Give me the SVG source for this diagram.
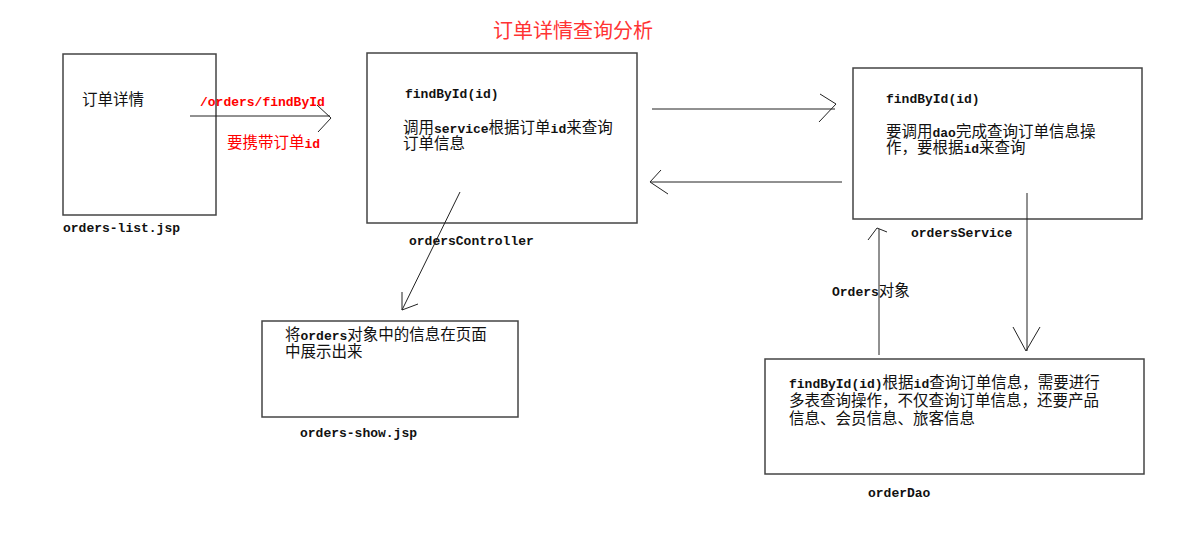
<svg xmlns="http://www.w3.org/2000/svg" width="1193" height="542" viewBox="0 0 1193 542">
<style>
.box{fill:#fff;stroke:#444;stroke-width:1.5}
.ln{fill:none;stroke:#222;stroke-width:1}
.cj{font-family:"Noto Sans CJK SC","Liberation Sans",sans-serif;font-size:15.5px;fill:#111}
.mo{font-family:"Liberation Mono","DejaVu Sans Mono",monospace;font-size:13px;font-weight:bold;fill:#111}
.red{fill:#f00}
</style>
<rect width="1193" height="542" fill="#fff"/>
<text x="493" y="38" font-family="'Noto Sans CJK SC',sans-serif" font-size="20" fill="#ff3333">订单详情查询分析</text>
<g id="orders-list">
<rect class="box" x="63" y="54" width="153" height="161"/>
<text class="cj" x="82" y="105">订单详情</text>
<text class="mo" x="63" y="232">orders-list.jsp</text>
</g>
<g id="ordersController">
<rect class="box" x="367" y="53" width="270" height="170"/>
<text class="mo" x="405" y="98">findById(id)</text>
<text class="cj" x="403" y="133">调用</text>
<text class="mo" x="434" y="133">service</text>
<text class="cj" x="488.6" y="133">根据订单</text>
<text class="mo" x="550.6" y="133">id</text>
<text class="cj" x="566.2" y="133">来查询</text>
<text class="cj" x="403" y="149">订单信息</text>
<text class="mo" x="409" y="245">ordersController</text>
</g>
<g id="ordersService">
<rect class="box" x="853" y="68" width="289" height="151"/>
<text class="mo" x="886" y="103">findById(id)</text>
<text class="cj" x="886" y="137">要调用</text>
<text class="mo" x="932.5" y="137">dao</text>
<text class="cj" x="955.9" y="137">完成查询订单信息操</text>
<text class="cj" x="886" y="153">作，要根据</text>
<text class="mo" x="963.5" y="153">id</text>
<text class="cj" x="979.1" y="153">来查询</text>
<text class="mo" x="911" y="237">ordersService</text>
</g>
<g id="orders-show">
<rect class="box" x="262" y="321" width="256" height="96"/>
<text class="cj" x="285" y="340">将</text>
<text class="mo" x="300.5" y="340">orders</text>
<text class="cj" x="347.3" y="340">对象中的信息在页面</text>
<text class="cj" x="285" y="357">中展示出来</text>
<text class="mo" x="300" y="437">orders-show.jsp</text>
</g>
<g id="orderDao">
<rect class="box" x="765" y="359" width="379" height="115"/>
<text class="mo" x="789" y="388">findById(id)</text>
<text class="cj" x="882.6" y="388">根据</text>
<text class="mo" x="913.6" y="388">id</text>
<text class="cj" x="929.2" y="388">查询订单信息，需要进行</text>
<text class="cj" x="789" y="406">多表查询操作，不仅查询订单信息，还要产品</text>
<text class="cj" x="789" y="424">信息、会员信息、旅客信息</text>
<text class="mo" x="868" y="497">orderDao</text>
</g>
<g id="connectors">
<path class="ln" d="M190 116H330M317 105L331 118L318 132"/>
<text class="mo red" x="200" y="106">/orders/findById</text>
<text class="cj red" x="227" y="148">要携带订单</text>
<text class="mo red" x="304.5" y="148">id</text>
<path class="ln" d="M652 109H835M820 94L836 104L819 122"/>
<path class="ln" d="M842 182H651M661 170L650 182L668 194"/>
<path class="ln" d="M460 192L402 310M402 292L402 310L418 304"/>
<path class="ln" d="M1027 193V351M1013 327L1026 351L1040 327"/>
<path class="ln" stroke="#555" d="M879 355V229M868 240L877 228L887 232"/>
<text class="mo" x="832" y="296">Orders</text>
<text class="cj" x="878.8" y="296">对象</text>
</g>
</svg>
